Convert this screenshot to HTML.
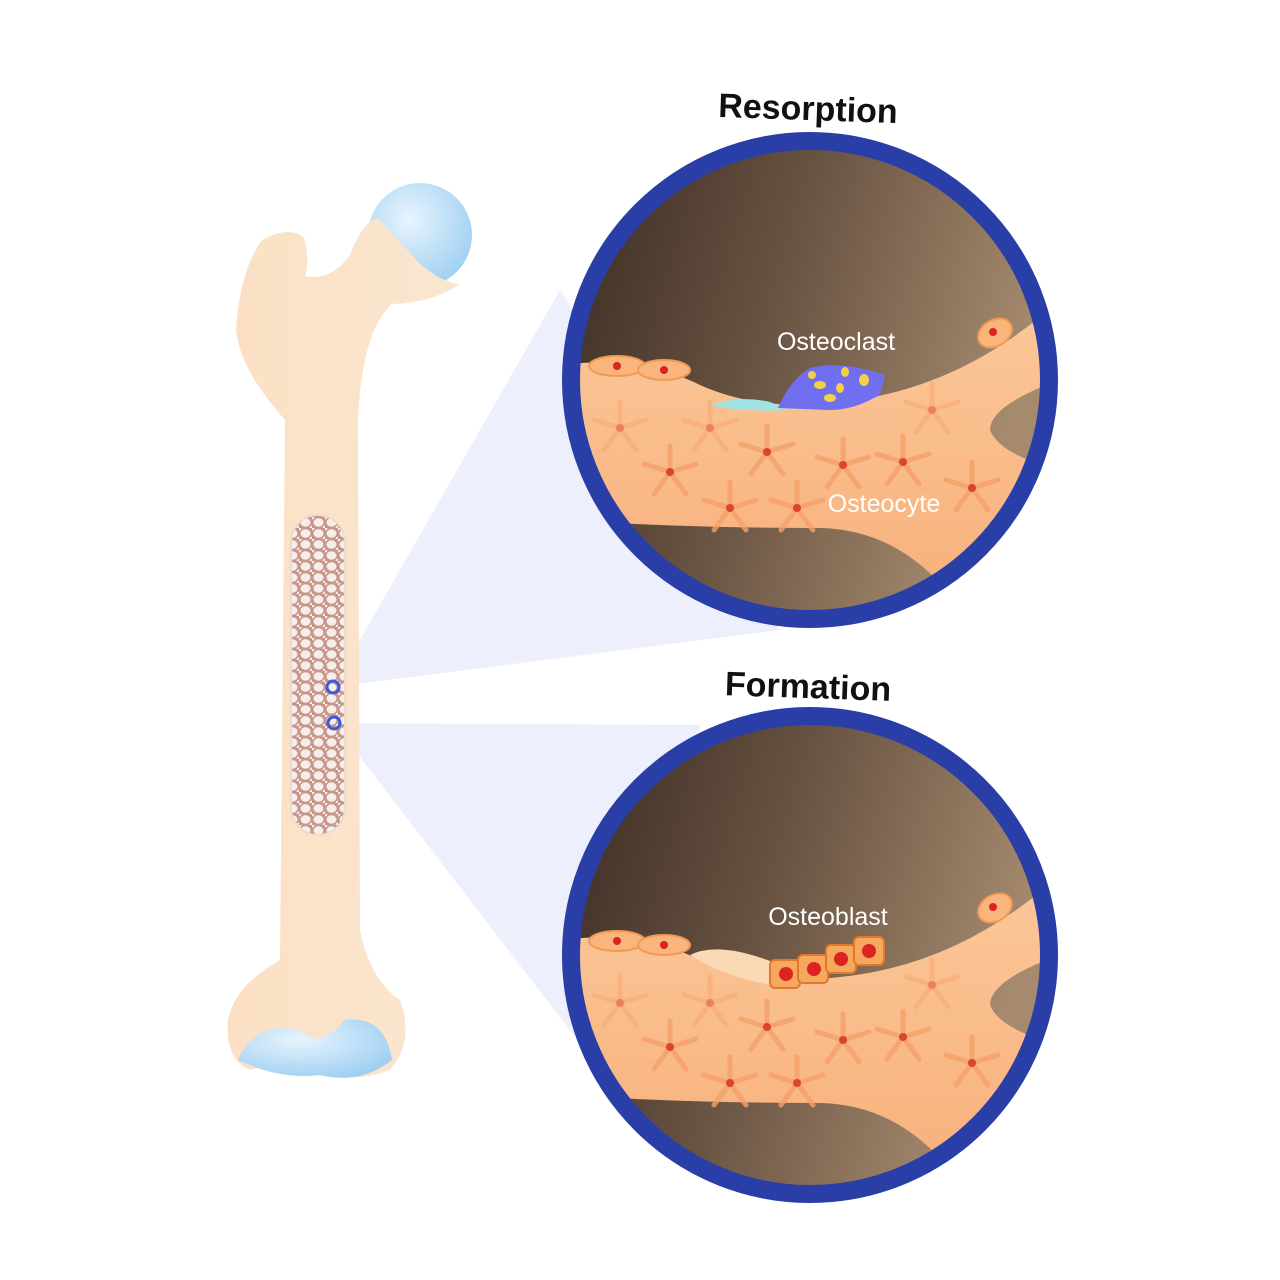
<!DOCTYPE html>
<html><head><style>body{margin:0;background:#fff}svg{display:block}</style></head><body>
<svg width="1280" height="1280" viewBox="0 0 1280 1280" xmlns="http://www.w3.org/2000/svg" font-family="Liberation Sans, sans-serif">
<defs>
<linearGradient id="bg" x1="0" y1="0" x2="1" y2="0.3"><stop offset="0" stop-color="#3a2b22"/><stop offset="0.5" stop-color="#6a5443"/><stop offset="1" stop-color="#a58a6e"/></linearGradient>
<linearGradient id="band" x1="0" y1="0" x2="0" y2="1"><stop offset="0" stop-color="#fbc89a"/><stop offset="1" stop-color="#f7ad78"/></linearGradient>
<radialGradient id="blue" cx="0.4" cy="0.35" r="0.7"><stop offset="0" stop-color="#e8f4fd"/><stop offset="1" stop-color="#9dcff2"/></radialGradient>
<linearGradient id="bone" x1="0" y1="0" x2="1" y2="0"><stop offset="0" stop-color="#fbe0c4"/><stop offset="1" stop-color="#fae6d0"/></linearGradient>
<clipPath id="c1"><circle cx="810" cy="380" r="232"/></clipPath>
<pattern id="sp" width="13" height="11" patternUnits="userSpaceOnUse"><rect width="13" height="11" fill="#c8968a"/><ellipse cx="6.5" cy="5.5" rx="5" ry="4.2" fill="#f6eeea"/><circle cx="0" cy="0" r="2.5" fill="#f6eeea"/><circle cx="13" cy="11" r="2.5" fill="#f6eeea"/></pattern>
<g id="star"><g stroke="#f7a06a" stroke-width="5" stroke-linecap="round" opacity="0.8"><line x1="0" y1="0" x2="0" y2="-26"/><line x1="0" y1="0" x2="26" y2="-8"/><line x1="0" y1="0" x2="16" y2="22"/><line x1="0" y1="0" x2="-16" y2="22"/><line x1="0" y1="0" x2="-26" y2="-8"/></g><circle r="4" fill="#d9452e"/></g>
<g id="scene">
<circle cx="810" cy="380" r="240" fill="url(#bg)"/>
<g clip-path="url(#c1)">
<path d="M560,365 Q640,355 700,385 Q760,412 840,402 Q960,390 1060,300 L1060,380 Q990,405 990,430 Q1000,455 1060,470 L1060,640 L980,640 Q920,530 820,528 Q690,528 560,520 Z" fill="url(#band)"/>
<use href="#star" x="620" y="428" opacity="0.5"/><use href="#star" x="710" y="428" opacity="0.5"/>
<use href="#star" x="670" y="472"/><use href="#star" x="767" y="452"/><use href="#star" x="843" y="465"/><use href="#star" x="903" y="462"/>
<use href="#star" x="730" y="508"/><use href="#star" x="797" y="508"/><use href="#star" x="972" y="488"/><use href="#star" x="932" y="410" opacity="0.5"/>
<ellipse cx="617" cy="366" rx="28" ry="10" fill="#f9b57c" stroke="#f09a55" stroke-width="2"/><circle cx="617" cy="366" r="4" fill="#d22"/>
<ellipse cx="664" cy="370" rx="26" ry="10" fill="#f9b57c" stroke="#f09a55" stroke-width="2"/><circle cx="664" cy="370" r="4" fill="#d22"/>
<ellipse cx="995" cy="333" rx="18" ry="13" fill="#f9b57c" stroke="#f09a55" stroke-width="2" transform="rotate(-30 995 333)"/><circle cx="993" cy="332" r="4" fill="#d22"/>
</g>
<circle cx="810" cy="380" r="239" fill="none" stroke="#2a3ea8" stroke-width="18"/>
</g>
</defs>

<!-- cones -->
<polygon points="333,687 560,290 780,630" fill="#e8ebfb" opacity="0.8"/>
<polygon points="334,723 700,725 585,1050" fill="#e8ebfb" opacity="0.8"/>

<!-- femur -->
<circle cx="420" cy="235" r="52" fill="url(#blue)"/>
<path d="M262,240 Q290,225 304,238 Q310,262 305,276 Q330,282 350,255 Q362,222 378,218 Q398,240 418,262 Q440,282 460,284 Q432,303 392,304 Q362,330 358,420 L360,930 Q370,980 400,1000 Q415,1040 390,1070 Q350,1085 310,1070 Q280,1060 250,1070 Q225,1060 228,1020 Q235,985 280,960 L285,420 Q240,370 236,330 Q240,270 262,240 Z" fill="url(#bone)"/>
<path d="M238,1060 Q255,1020 300,1030 Q320,1050 345,1020 Q385,1015 392,1060 Q360,1085 320,1075 Q280,1080 238,1060Z" fill="url(#blue)"/>
<rect x="291" y="515" width="54" height="320" rx="27" fill="url(#sp)"/>
<rect x="291" y="515" width="54" height="320" rx="27" fill="none" stroke="#eedbcc" stroke-width="2"/>
<circle cx="333" cy="687" r="6" fill="none" stroke="#3a5bd9" stroke-width="3"/>
<circle cx="334" cy="723" r="6" fill="none" stroke="#3a5bd9" stroke-width="3"/>

<!-- top circle -->
<use href="#scene"/>
<path d="M710,405 Q740,395 770,402 L790,410 Q740,412 710,405Z" fill="#9fe3e3"/>
<path d="M778,408 Q790,380 810,368 Q840,360 885,375 L880,395 L870,400 Q850,410 830,410 Z" fill="#6f6ff0"/>
<g fill="#f3d045"><ellipse cx="820" cy="385" rx="6" ry="4"/><ellipse cx="845" cy="372" rx="4" ry="5"/><ellipse cx="864" cy="380" rx="5" ry="6"/><ellipse cx="840" cy="388" rx="4" ry="5"/><ellipse cx="830" cy="398" rx="6" ry="4"/><ellipse cx="812" cy="375" rx="4" ry="4"/></g>
<text x="836" y="350" font-size="25" fill="#fff" text-anchor="middle">Osteoclast</text>
<text x="884" y="512" font-size="25" fill="#fff" text-anchor="middle">Osteocyte</text>
<text x="808" y="120" font-size="34" font-weight="bold" fill="#111" text-anchor="middle" transform="rotate(2 808 110)">Resorption</text>

<!-- bottom circle -->
<g transform="translate(0,575)"><use href="#scene"/></g>
<path d="M690,955 Q720,940 780,965 L770,985 Q720,975 690,955Z" fill="#fcd9b5"/>
<g fill="#f7a85f" stroke="#e07a2a" stroke-width="2">
<rect x="770" y="960" width="30" height="28" rx="5"/><rect x="798" y="955" width="30" height="28" rx="5"/><rect x="826" y="945" width="30" height="28" rx="5"/><rect x="854" y="937" width="30" height="28" rx="5"/></g>
<g fill="#d22"><circle cx="786" cy="974" r="7"/><circle cx="814" cy="969" r="7"/><circle cx="841" cy="959" r="7"/><circle cx="869" cy="951" r="7"/></g>
<text x="828" y="925" font-size="25" fill="#fff" text-anchor="middle">Osteoblast</text>
<text x="808" y="698" font-size="34" font-weight="bold" fill="#111" text-anchor="middle" transform="rotate(2 808 688)">Formation</text>
</svg>
</body></html>
